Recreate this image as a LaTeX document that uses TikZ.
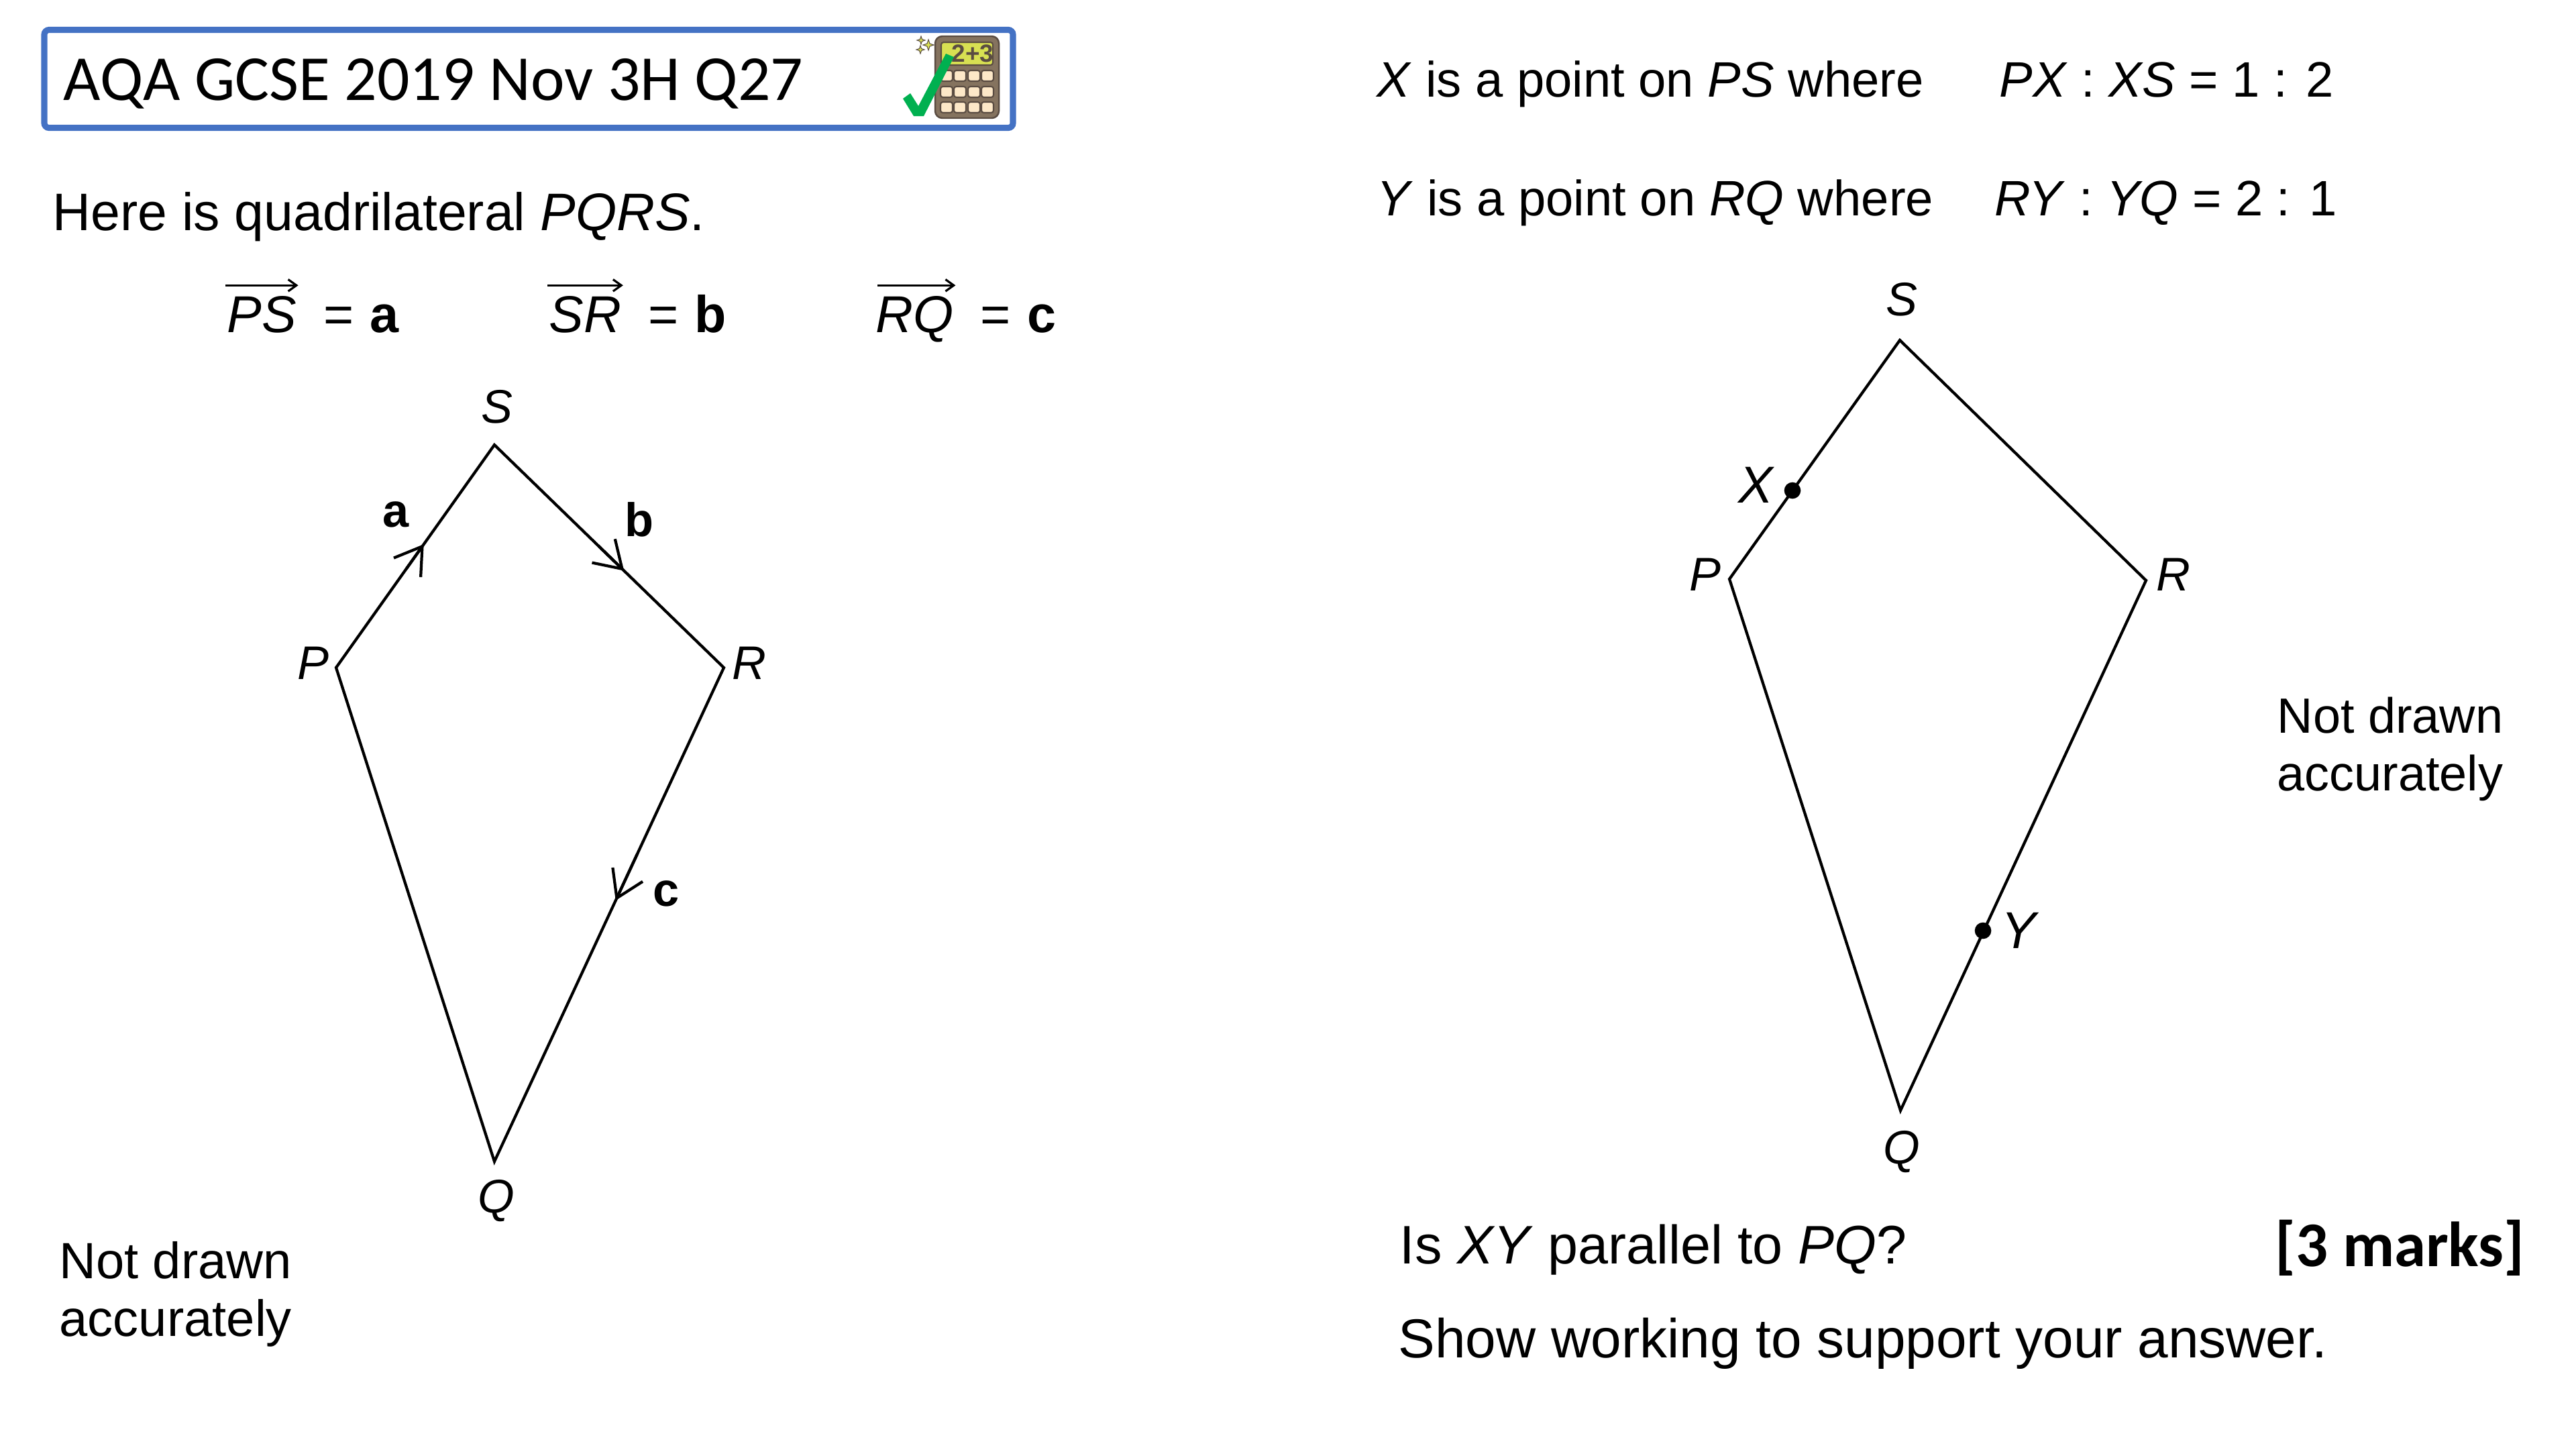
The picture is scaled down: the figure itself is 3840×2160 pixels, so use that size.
\documentclass[tikz,border=0pt]{standalone}
\usepackage{fontspec}
\setmainfont{Liberation Sans}
\newfontfamily\calibri{Carlito}
\usetikzlibrary{arrows.meta,positioning,calc}
\definecolor{boxblue}{HTML}{4472C4}
\definecolor{tickgreen}{HTML}{00B050}
\definecolor{calcbody}{HTML}{85735F}
\definecolor{calcdark}{HTML}{5A4C42}
\definecolor{calcscreen}{HTML}{D8E052}
\definecolor{calckey}{HTML}{FDE8C8}
\tikzset{
  bodytext/.style={inner sep=0pt, anchor=base west, font=\fontsize{23}{23}\selectfont},
  ratiotext/.style={bodytext, font=\fontsize{21.1}{21.1}\selectfont},
  vectext/.style={bodytext, font=\fontsize{22}{22}\selectfont},
  notetext/.style={bodytext, font=\fontsize{21.6}{21.6}\selectfont},
  vlabel/.style={inner sep=0pt, anchor=base, font=\fontsize{20}{20}\selectfont\itshape},
  elabel/.style={inner sep=0pt, anchor=base, font=\fontsize{20}{20}\selectfont\bfseries},
  kite/.style={line width=1.2pt, line join=miter},
  barb/.style={line width=1.2pt, -{Straight Barb[length=11pt,width=14pt]}},
  overvec/.style={line width=0.9pt, -{Straight Barb[length=3.5pt,width=5pt]}},
  ptdot/.style={circle, fill=black, inner sep=0pt, minimum size=7pt},
  calckeybox/.style={draw=calcdark, fill=calckey, line width=0.6pt, rounded corners=1pt}
}
\begin{document}
\begin{tikzpicture}[x=0.01cm, y=-0.01cm]
\useasboundingbox (0,0) rectangle (3840,2160);

\draw[boxblue, line width=2.6pt, rounded corners=2pt] (66,44.5) rectangle (1510,190.5);
\node[inner sep=0pt, anchor=base west, font=\calibri\fontsize{27.2}{27.2}\selectfont] (title) at (94,149) {AQA GCSE 2019 Nov 3H Q27};
\draw[calcdark, fill=calcbody, line width=0.7pt, rounded corners=3pt] (1394,54) rectangle (1489,176);
\draw[calcdark, fill=calcscreen, line width=0.6pt, rounded corners=1pt] (1403,63) rectangle (1480,97);
\node[inner sep=0pt, text=calcdark, font=\bfseries\fontsize{10.5}{10.5}\selectfont] (calcsum) at (1450,80) {2+3};
\foreach \x in {1411,1431,1452,1472}
    \foreach \y in {113,137,160}
        \draw[calckeybox] (\x-9,\y-8) rectangle (\x+9,\y+8);
\foreach \x/\y/\r in {1373/60/6, 1384/67/8, 1372/74/6}
    \draw[calcdark, fill=calcscreen, line width=0.3pt, shift={(\x,\y)}] (0,-\r) -- (0.25*\r,-0.25*\r) -- (\r,0) -- (0.25*\r,0.25*\r) -- (0,\r) -- (-0.25*\r,0.25*\r) -- (-\r,0) -- (-0.25*\r,-0.25*\r) -- cycle;
\fill[tickgreen] (1346,147) -- (1357,139) -- (1369,158) -- (1410,80) -- (1422,85) -- (1377,173) -- (1362,173) -- cycle;

\node[bodytext, font=\fontsize{22.4}{22.4}\selectfont] (intro) at (78,343) {Here is quadrilateral \textit{PQRS}.};
\node[vectext] (PSv) at (338,495) {\itshape PS};
\node[vectext, base right=11pt of PSv] (PSeq) {=};
\node[vectext, base right=6.5pt of PSeq] (PSa) {\bfseries a};
\node[vectext] (SRv) at (818,495) {\itshape SR};
\node[vectext, base right=11pt of SRv] (SReq) {=};
\node[vectext, base right=6.5pt of SReq] (SRb) {\bfseries b};
\node[vectext] (RQv) at (1305,495) {\itshape RQ};
\node[vectext, base right=11pt of RQv] (RQeq) {=};
\node[vectext, base right=6.5pt of RQeq] (RQc) {\bfseries c};
\draw[overvec] ([shift={(-2,-15)}]PSv.north west) -- ([shift={(2,-15)}]PSv.north east);
\draw[overvec] ([shift={(-2,-15)}]SRv.north west) -- ([shift={(2,-15)}]SRv.north east);
\draw[overvec] ([shift={(3,-15)}]RQv.north west) -- ([shift={(2,-15)}]RQv.north east);

\coordinate (S1) at (737,663);
\coordinate (P1) at (501,995);
\coordinate (R1) at (1079,995);
\coordinate (Q1) at (737,1731);
\coordinate (atip) at ($(P1)!0.554!(S1)$);
\coordinate (btip) at ($(S1)!0.565!(R1)$);
\coordinate (ctip) at ($(R1)!0.4715!(Q1)$);
\draw[kite] (P1) -- (S1) -- (R1) -- (Q1) -- cycle;
\draw[barb] ($(atip)!0.2!(P1)$) -- (atip);
\draw[barb] ($(btip)!0.2!(S1)$) -- (btip);
\draw[barb] ($(ctip)!0.2!(R1)$) -- (ctip);
\node[vlabel] (S1l) at (741,630) {S};
\node[vlabel] (P1l) at (467,1012) {P};
\node[vlabel] (R1l) at (1117,1012) {R};
\node[vlabel] (Q1l) at (740,1807) {Q};
\node[elabel] (al) at (590,785) {a};
\node[elabel] (bl) at (953,799) {b};
\node[elabel] (cl) at (993,1350) {c};
\node[notetext] (nda1) at (88,1905) {Not drawn};
\node[notetext] (nda2) at (88,1991) {accurately};

\node[ratiotext] (xline) at (2052,144) {\textit{X} is a point on \textit{PS} where};
\node[ratiotext] (xratio) at (2980,144) {\textit{PX} : \textit{XS} = 1 : 2};
\node[ratiotext] (yline) at (2052,321) {\textit{Y} is a point on \textit{RQ} where};
\node[ratiotext] (yratio) at (2973,321) {\textit{RY} : \textit{YQ} = 2 : 1};

\coordinate (S2) at (2832,507);
\coordinate (P2) at (2578,863);
\coordinate (R2) at (3199,865);
\coordinate (Q2) at (2833,1655);
\draw[kite] (P2) -- (S2) -- (R2) -- (Q2) -- cycle;
\node[ptdot] (Xd) at (2672,731) {};
\node[ptdot] (Yd) at (2956,1387) {};
\node[vlabel] (S2l) at (2835,470) {S};
\node[vlabel] (P2l) at (2542,880) {P};
\node[vlabel] (R2l) at (3240,880) {R};
\node[vlabel] (Q2l) at (2835,1734) {Q};
\node[vlabel, font=\fontsize{22}{22}\selectfont\itshape] (Xl) at (2617,749) {X};
\node[vlabel, font=\fontsize{22}{22}\selectfont\itshape] (Yl) at (3009,1413) {Y};
\node[notetext, font=\fontsize{21}{21}\selectfont] (ndb1) at (3394,1092) {Not drawn};
\node[notetext, font=\fontsize{21}{21}\selectfont] (ndb2) at (3394,1178) {accurately};

\node[bodytext] (ask) at (2086,1883) {Is \textit{XY} parallel to \textit{PQ}?};
\node[inner sep=0pt, anchor=base east, font=\calibri\bfseries\fontsize{27}{27}\selectfont] (marks) at (3764,1887) {[3 marks]};
\node[bodytext, font=\fontsize{23.3}{23.3}\selectfont] (show) at (2084,2023) {Show working to support your answer.};
\end{tikzpicture}
\end{document}
